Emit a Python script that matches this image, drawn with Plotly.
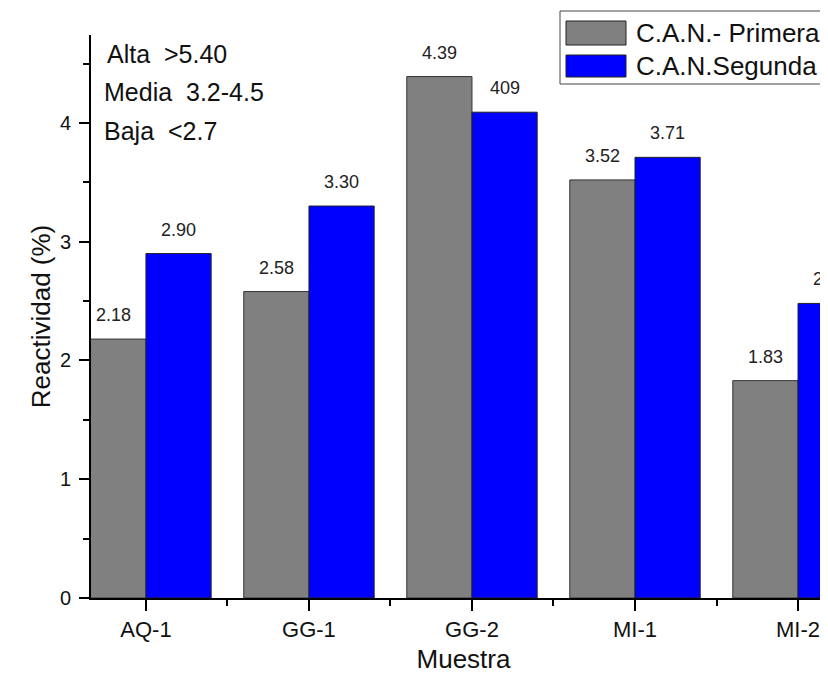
import plotly.graph_objects as go

muestras = ["AQ-1", "GG-1", "GG-2", "MI-1", "MI-2"]
primera = [2.18, 2.58, 4.39, 3.52, 1.83]
segunda = [2.90, 3.30, 4.09, 3.71, 2.48]
primera_txt = ["2.18", "2.58", "4.39", "3.52", "1.83"]
segunda_txt = ["2.90", "3.30", "409", "3.71", "2.48"]
rangos = ["Alta\u00a0\u00a0>5.40", "Media\u00a0\u00a03.2-4.5", "Baja\u00a0\u00a0<2.7"]
series_names = ["C.A.N.- Primera", "C.A.N.Segunda"]

GRIS = "#808080"
AZUL = "#0000FF"
FONT = "Arial, Liberation Sans, sans-serif"

W, H = 828, 675
L, R, T, B = 83, 0, 27, 85

def px(x):
    return (x - L) / (W - L - R)

def py(y):
    return (H - B - y) / (H - T - B)

xs = list(range(len(muestras)))

fig = go.Figure()
fig.add_trace(go.Bar(x=xs, y=primera, name=series_names[0], marker=dict(color=GRIS, line=dict(color="#333333", width=1))))
fig.add_trace(go.Bar(x=xs, y=segunda, name=series_names[1], marker=dict(color=AZUL, line=dict(color="#222222", width=1))))

# value labels above bars
for i in xs:
    fig.add_annotation(x=i - 0.2, y=primera[i], text=primera_txt[i], showarrow=False,
                       yanchor="bottom", yshift=12, font=dict(size=18, color="#222", family=FONT))
    fig.add_annotation(x=i + 0.2, y=segunda[i], text=segunda_txt[i], showarrow=False,
                       yanchor="bottom", yshift=12, font=dict(size=18, color="#222", family=FONT))

# range notes top-left
for k, t in enumerate(rangos):
    fig.add_annotation(xref="paper", yref="paper", x=px(97 if k == 0 else 94), y=py(46 + 38.5 * k),
                       text=t, showarrow=False, xanchor="left", yanchor="middle",
                       font=dict(size=25, color="#111", family=FONT))

# legend box drawn by hand
fig.add_shape(type="rect", xref="paper", yref="paper", x0=px(552), x1=px(823), y0=py(76), y1=py(3),
              line=dict(color="#444", width=1), fillcolor="white")
sw = [(13, 37, GRIS), (47, 69, AZUL)]
for k, (y0, y1, c) in enumerate(sw):
    fig.add_shape(type="rect", xref="paper", yref="paper", x0=px(558), x1=px(618), y0=py(y1), y1=py(y0),
                  line=dict(color="#222", width=1), fillcolor=c)
    fig.add_annotation(xref="paper", yref="paper", x=px(626), y=py((y0 + y1) / 2), text=series_names[k],
                       showarrow=False, xanchor="left", yanchor="middle",
                       font=dict(size=26, color="#111", family=FONT))

fig.update_layout(
    width=W, height=H,
    margin=dict(l=L, r=R, t=T, b=B),
    barmode="group", bargap=0.2, bargroupgap=0,
    plot_bgcolor="white", paper_bgcolor="white",
    showlegend=False,
    font=dict(family=FONT, color="#111"),
)
fig.update_xaxes(
    range=[-0.337, 4.233], tickvals=xs, ticktext=muestras,
    showline=True, linecolor="black", linewidth=2, showgrid=False, zeroline=False,
    ticks="outside", ticklen=11, tickwidth=2, tickcolor="black",
    tickfont=dict(size=22, family=FONT),
    minor=dict(tick0=0.5, dtick=1, ticks="outside", ticklen=6, tickwidth=2, tickcolor="black", showgrid=False),
    title=dict(text="Muestra", font=dict(size=26, family=FONT), standoff=8),
)
fig.update_yaxes(
    range=[0, 4.74], tickvals=[0, 1, 2, 3, 4],
    showline=True, linecolor="black", linewidth=2, showgrid=False, zeroline=False,
    ticks="outside", ticklen=10, tickwidth=2, tickcolor="black",
    tickfont=dict(size=20, family=FONT), ticklabelstandoff=4,
    minor=dict(tick0=0.5, dtick=1, ticks="outside", ticklen=6, tickwidth=2, tickcolor="black", showgrid=False),
    title=dict(text="Reactividad (%)", font=dict(size=26, family=FONT), standoff=2),
)

fig.write_html("out.html")
